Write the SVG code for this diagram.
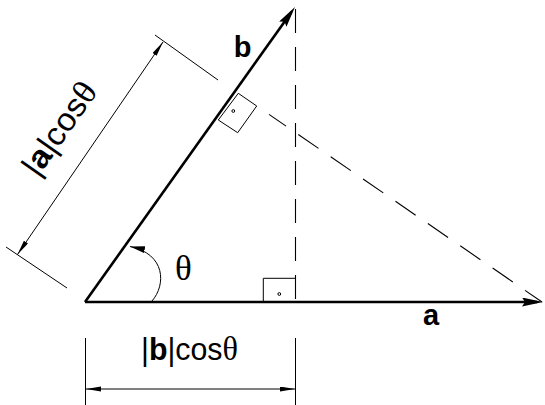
<svg xmlns="http://www.w3.org/2000/svg" width="545" height="405" viewBox="0 0 545 405">
<style>
.vec{stroke:#000;stroke-width:2.6;fill:none}
.thin{stroke:#000;stroke-width:1;fill:none}
.dash{stroke:#000;stroke-width:1.1;fill:none}
.lbl{font-family:"Liberation Sans",Arial,sans-serif;fill:#000}
.bold{font-weight:bold}
.greek{font-family:"Liberation Serif","Times New Roman",serif}
</style>
<defs>
<marker id="mainArrow" markerUnits="userSpaceOnUse" markerWidth="24" markerHeight="12" refX="15" refY="4.5" orient="auto">
<path d="M0,0 L21,4.5 L0,9 L3,4.5 z" fill="#000"/>
</marker>
<marker id="dimArrow" markerUnits="userSpaceOnUse" markerWidth="18" markerHeight="8" refX="15" refY="2.5" orient="auto-start-reverse">
<path d="M0,0 L15,2.5 L0,5 z" fill="#000"/>
</marker>
<marker id="arcArrow" markerUnits="userSpaceOnUse" markerWidth="18" markerHeight="10" refX="15" refY="3.5" orient="auto">
<path d="M0,0 L15,3.5 L0,7 z" fill="#000"/>
</marker>
</defs>

<g id="connectors">
<line id="vec-a" class="vec" x1="85" y1="302" x2="537" y2="302" marker-end="url(#mainArrow)"/>
<line id="vec-b" class="vec" x1="85" y1="302" x2="291.5" y2="11.9" marker-end="url(#mainArrow)"/>
<line id="proj-a" class="dash" x1="542" y1="302" x2="269" y2="114.4" stroke-dasharray="24.5 14.8" stroke-dashoffset="3.9"/>
<line id="proj-b" class="dash" x1="295.5" y1="9" x2="295.5" y2="302" stroke-dasharray="24 14"/>
<path id="angle-arc" class="thin" d="M152,301 C166,285 166,254 130,246.5" marker-end="url(#arcArrow)"/>
<line class="thin" x1="85.5" y1="338" x2="85.5" y2="405"/>
<line class="thin" x1="295.5" y1="338" x2="295.5" y2="405"/>
<line class="thin" x1="86" y1="389" x2="295" y2="389" marker-start="url(#dimArrow)" marker-end="url(#dimArrow)"/>
<line class="thin" x1="155" y1="35" x2="218" y2="80"/>
<line class="thin" x1="6" y1="247" x2="67" y2="288"/>
<line class="thin" x1="163" y1="42" x2="17.5" y2="254.5" marker-start="url(#dimArrow)" marker-end="url(#dimArrow)"/>
</g>

<g id="right-angle-top">
<polygon class="thin" points="218.3,120 237.7,132.7 256.7,106 238.3,93.3"/>
<circle cx="233.3" cy="111" r="1.4" class="thin" stroke-width="0.8"/>
</g>
<g id="right-angle-bottom">
<polyline class="thin" points="263.3,302 263.3,278.3 295.5,278.3"/>
<circle cx="279.3" cy="294" r="1.4" class="thin" stroke-width="0.8"/>
</g>

<g id="label-b">
<text class="lbl bold" x="242.5" y="57" font-size="29" text-anchor="middle">b</text>
</g>
<g id="label-a">
<text class="lbl bold" x="431" y="325" font-size="29" text-anchor="middle">a</text>
</g>
<g id="label-theta">
<text class="lbl greek" x="183.3" y="280" font-size="35" text-anchor="middle">θ</text>
</g>
<g id="label-bcos">
<text class="lbl" x="141" y="360" font-size="31" textLength="97" lengthAdjust="spacingAndGlyphs">|<tspan class="bold">b</tspan>|cos<tspan class="greek" font-size="33">θ</tspan></text>
</g>
<g id="label-acos" transform="translate(60,129) rotate(-55)">
<text class="lbl" x="0" y="10" font-size="32" text-anchor="middle" textLength="106" lengthAdjust="spacingAndGlyphs">|<tspan class="bold">a</tspan>|cos<tspan class="greek" font-size="34">θ</tspan></text>
</g>
</svg>
